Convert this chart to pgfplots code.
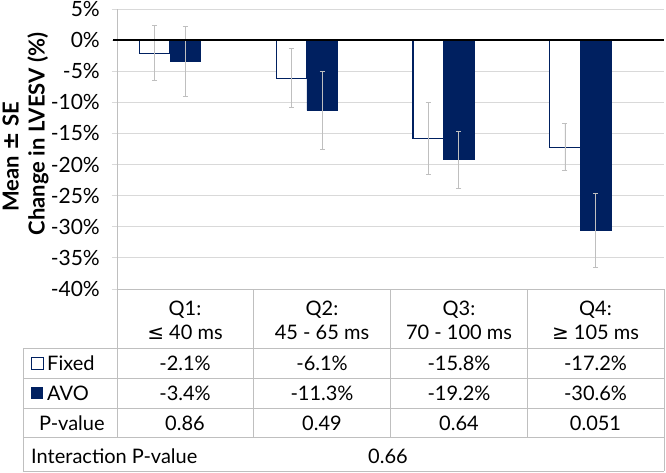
\documentclass[border=0pt]{standalone}
\usepackage{pgfplots}
\pgfplotsset{compat=1.18}
\usepackage{fontspec}
\setmainfont{Lato}
\newfontfamily\symfont{DejaVu Sans}
\definecolor{navy}{HTML}{002060}
\definecolor{gridc}{HTML}{D9D9D9}
\definecolor{tabc}{HTML}{BFBFBF}
\definecolor{errc}{HTML}{BFBFBF}
\begin{document}
\fontsize{20}{24}\selectfont
\begin{tikzpicture}[x=1pt,y=1pt,font=\fontsize{20}{24}\selectfont]
\path[use as bounding box] (0,0) rectangle (666,472);
\begin{axis}[
  at={(117pt,183pt)}, anchor=south west,
  scale only axis, width=547pt, height=280pt,
  xmin=-0.5, xmax=3.5, ymin=-40, ymax=5,
  axis x line=none, axis y line*=left,
  y axis line style={draw=tabc,-},
  ytick={-40,-35,-30,-25,-20,-15,-10,-5,0,5},
  yticklabels={-40\%,-35\%,-30\%,-25\%,-20\%,-15\%,-10\%,-5\%,0\%,5\%},
  ytick align=outside, major tick length=5pt,
  ytick style={draw=gridc, line width=0.8pt},
  yticklabel style={anchor=east, inner sep=0pt, xshift=-12pt, font=\fontsize{21}{24}\selectfont},
  ymajorgrids, grid style={gridc, line width=0.8pt},
  clip=false,
]
\addplot[ybar, bar width=0.223, bar shift=0pt, draw=navy, fill=white, line width=1.1pt,
  error bars/.cd, y dir=both, y explicit,
  error bar style={errc, line width=0.8pt},
  error mark options={rotate=90, errc, mark size=2.5pt, line width=0.8pt}]
  coordinates {(-0.224,-2.1) +- (0,4.4) (0.776,-6.1) +- (0,4.7) (1.776,-15.8) +- (0,5.8) (2.776,-17.2) +- (0,3.8)};
\addplot[ybar, bar width=0.223, bar shift=0pt, draw=navy, fill=navy, line width=0.5pt,
  error bars/.cd, y dir=both, y explicit,
  error bar style={errc, line width=0.8pt},
  error mark options={rotate=90, errc, mark size=2.5pt, line width=0.8pt}]
  coordinates {(0,-3.4) +- (0,5.6) (1,-11.3) +- (0,6.2) (2,-19.2) +- (0,4.6) (3,-30.6) +- (0,6.0)};
\draw[black, line width=1.3pt] (axis cs:-0.529,0) -- (axis cs:3.5,0);
\end{axis}
% y label
\node[rotate=90, anchor=base, font=\fontsize{22}{26}\selectfont\bfseries] at (18.5,315) {Mean {\symfont\bfseries ±} SE};
\node[rotate=90, anchor=base, font=\fontsize{22}{26}\selectfont\bfseries] at (44.5,338) {Change in LVESV (\%)};
% table lines
\begin{scope}[draw=tabc, line width=0.8pt]
\draw (117,183) -- (664,183);
\draw (23,124) -- (664,124);
\draw (23,94) -- (664,94);
\draw (23,64) -- (664,64);
\draw (23,35) -- (664,35);
\draw (23,1) -- (664,1);
\draw (23,124) -- (23,1);
\draw (117,183) -- (117,35);
\draw (253,183) -- (253,35);
\draw (390,183) -- (390,35);
\draw (527,183) -- (527,35);
\draw (664,183) -- (664,1);
\end{scope}
% header
\foreach \xc/\qa/\qb in {185/Q1:/{{\symfont ≤} 40 ms},322/Q2:/{45 - 65 ms},459/Q3:/{70 - 100 ms},595.5/Q4:/{{\symfont ≥} 105 ms}}{
  \node[anchor=base, inner sep=0pt] at (\xc,157) {\qa};
  \node[anchor=base, inner sep=0pt] at (\xc,133) {\qb};
}
% legend keys
\draw[navy, line width=1pt, fill=white] (31,103) rectangle (43,115);
\fill[navy] (31,73) rectangle (43,85);
\node[anchor=base west, inner sep=0pt] at (47,102) {Fixed};
\node[anchor=base west, inner sep=0pt] at (47,72) {AVO};
\node[anchor=base west, inner sep=0pt] at (39,42) {P-value};
\node[anchor=base west, inner sep=0pt] at (31,9) {Interaction P-value};
% values
\foreach \xc/\va/\vb/\vp in {185/-2.1\%/-3.4\%/0.86,322/-6.1\%/-11.3\%/0.49,459/-15.8\%/-19.2\%/0.64,595.5/-17.2\%/-30.6\%/0.051}{
  \node[anchor=base, inner sep=0pt] at (\xc,102) {\va};
  \node[anchor=base, inner sep=0pt] at (\xc,72) {\vb};
  \node[anchor=base, inner sep=0pt] at (\xc,42) {\vp};
}
\node[anchor=base, inner sep=0pt] at (388,9) {0.66};
\end{tikzpicture}
\end{document}
